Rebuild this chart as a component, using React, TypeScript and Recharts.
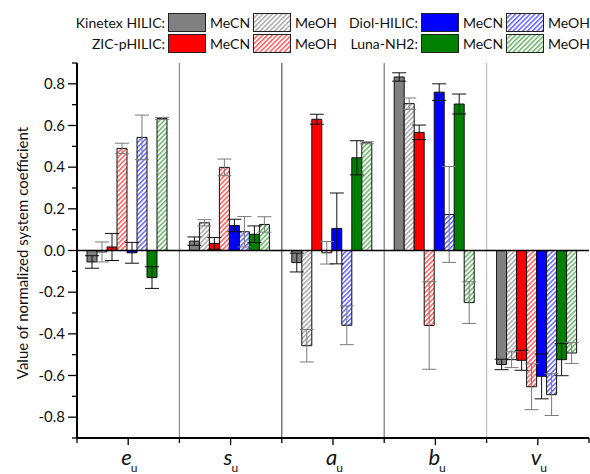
import { Bar, BarChart, ErrorBar, ReferenceLine, XAxis, YAxis } from 'recharts'

// categories (system coefficients)
const categories = ['e', 's', 'a', 'b', 'v']

// normalized coefficients + std errors
const kinMeCN = [-0.055, 0.045, -0.058, 0.833, -0.547]
const kinMeCNErr = [0.03, 0.02, 0.045, 0.02, 0.025]
const kinMeOH = [-0.007, 0.133, -0.457, 0.705, -0.524]
const kinMeOHErr = [0.048, 0.015, 0.078, 0.027, 0.038]
const zicMeCN = [0.017, 0.034, 0.63, 0.567, -0.527]
const zicMeCNErr = [0.065, 0.028, 0.024, 0.035, 0.048]
const zicMeOH = [0.49, 0.399, -0.011, -0.36, -0.654]
const zicMeOHErr = [0.025, 0.04, 0.054, 0.21, 0.11]
const diolMeCN = [-0.011, 0.12, 0.106, 0.76, -0.604]
const diolMeCNErr = [0.05, 0.03, 0.17, 0.04, 0.108]
const diolMeOH = [0.543, 0.09, -0.359, 0.173, -0.692]
const diolMeOHErr = [0.107, 0.073, 0.093, 0.23, 0.1]
const lunaMeCN = [-0.13, 0.078, 0.445, 0.703, -0.524]
const lunaMeCNErr = [0.052, 0.04, 0.082, 0.048, 0.077]
const lunaMeOH = [0.634, 0.125, 0.517, -0.25, -0.492]
const lunaMeOHErr = [0.005, 0.037, 0.005, 0.1, 0.05]

const yTicks = [-0.9, -0.8, -0.7, -0.6, -0.5, -0.4, -0.3, -0.2, -0.1, 0, 0.1, 0.2, 0.3, 0.4, 0.5, 0.6, 0.7, 0.8, 0.9]
const yLabel = 'Value of normalized system coefficient'

const data = categories.map((cat, i) => ({
  cat,
  kinMeCN: kinMeCN[i], kinMeCNErr: kinMeCNErr[i],
  kinMeOH: kinMeOH[i], kinMeOHErr: kinMeOHErr[i],
  zicMeCN: zicMeCN[i], zicMeCNErr: zicMeCNErr[i],
  zicMeOH: zicMeOH[i], zicMeOHErr: zicMeOHErr[i],
  diolMeCN: diolMeCN[i], diolMeCNErr: diolMeCNErr[i],
  diolMeOH: diolMeOH[i], diolMeOHErr: diolMeOHErr[i],
  lunaMeCN: lunaMeCN[i], lunaMeCNErr: lunaMeCNErr[i],
  lunaMeOH: lunaMeOH[i], lunaMeOHErr: lunaMeOHErr[i],
}))

const series = [
  { key: 'kinMeCN', color: '#808080', hatch: false },
  { key: 'kinMeOH', color: '#8a8a8a', hatch: true },
  { key: 'zicMeCN', color: '#ff0000', hatch: false },
  { key: 'zicMeOH', color: '#ff2020', hatch: true },
  { key: 'diolMeCN', color: '#0000ff', hatch: false },
  { key: 'diolMeOH', color: '#2a2aff', hatch: true },
  { key: 'lunaMeCN', color: '#008000', hatch: false },
  { key: 'lunaMeOH', color: '#2f9a2f', hatch: true },
]
const byKey = Object.fromEntries(series.map((s) => [s.key, s]))
const fillOf = (s: { key: string; color: string; hatch: boolean }) => (s.hatch ? `url(#hatch-${s.key})` : s.color)

const legendGroups = [
  { label: 'Kinetex HILIC:', keys: ['kinMeCN', 'kinMeOH'], right: 165, top: 13 },
  { label: 'ZIC-pHILIC:', keys: ['zicMeCN', 'zicMeOH'], right: 165, top: 34 },
  { label: 'Diol-HILIC:', keys: ['diolMeCN', 'diolMeOH'], right: 418, top: 13 },
  { label: 'Luna-NH2:', keys: ['lunaMeCN', 'lunaMeOH'], right: 418, top: 34 },
]

// category boundaries: [category, band side, separator colour]
const separators: [string, 'start' | 'end', string | null][] = [
  ['e', 'start', null],
  ['s', 'start', '#8c8c8c'],
  ['a', 'start', '#555'],
  ['b', 'start', '#777'],
  ['v', 'start', '#c4c4c4'],
  ['v', 'end', null],
]

const FONT = 'Lato, "Open Sans", sans-serif'

function YTick({ x, y, payload }: any) {
  const v = payload.value
  const major = Math.round(v * 10) % 2 === 0
  return (
    <g>
      <line x1={x} x2={x - (major ? 9 : 5)} y1={y} y2={y} stroke="#000" strokeWidth={1.3} />
      {major && (
        <text x={x - 12} y={y + 5} textAnchor="end" fontSize={15} fontFamily={FONT} fill="#111">
          {v.toFixed(1)}
        </text>
      )}
    </g>
  )
}

function XTick({ x, y, payload }: any) {
  return (
    <text x={x - 7} y={y + 20} fontFamily={FONT} fill="#111">
      <tspan fontSize={22} fontStyle="italic">{payload.value}</tspan>
      <tspan fontSize={12} dy={7} dx={-1}>u</tspan>
    </text>
  )
}

// axis title, centred a little below the middle of the plot like the original
function YLabel() {
  const cx = 22
  const cy = 253
  return (
    <text
      x={cx}
      y={cy}
      transform={`rotate(-90, ${cx}, ${cy})`}
      textAnchor="middle"
      dominantBaseline="central"
      fontSize={15}
      fontFamily={FONT}
      fill="#111"
    >
      {yLabel}
    </text>
  )
}

const sepShape = (color: string | null) => (props: any) => {
  const { x1, y1, y2 } = props
  const top = Math.min(y1, y2)
  const bottom = Math.max(y1, y2)
  return (
    <g>
      {color && <line x1={x1} x2={x1} y1={top} y2={bottom} stroke={color} strokeWidth={1.2} />}
      <line x1={x1} x2={x1} y1={bottom} y2={bottom + 5} stroke="#000" strokeWidth={1.3} />
    </g>
  )
}

function Swatch({ s }: any) {
  return (
    <svg width={38} height={19} style={{ display: 'block' }}>
      <rect x={0.5} y={0.5} width={37} height={18} fill={fillOf(s)} stroke="#222" strokeWidth={1} />
    </svg>
  )
}

export default function App() {
  return (
    <div style={{ position: 'absolute', left: 0, top: 0, width: 590, height: 474, background: '#fff', fontFamily: FONT }}>
      <svg width={0} height={0} style={{ position: 'absolute' }}>
        <defs>
          {series.filter((s) => s.hatch).map((s) => (
            <pattern key={s.key} id={`hatch-${s.key}`} width={3.4} height={3.4} patternUnits="userSpaceOnUse" patternTransform="rotate(45)">
              <rect width={3.4} height={3.4} fill="#fff" />
              <line x1={0.8} y1={0} x2={0.8} y2={3.4} stroke={s.color} strokeWidth={1.1} />
            </pattern>
          ))}
        </defs>
      </svg>

      {legendGroups.map((g) => (
        <div key={g.label} style={{ position: 'absolute', top: g.top, left: 0, height: 19, fontSize: 14, color: '#111', lineHeight: '19px' }}>
          <div style={{ position: 'absolute', left: g.right - 150, width: 150, textAlign: 'right' }}>{g.label}</div>
          <div style={{ position: 'absolute', left: g.right + 3 }}><Swatch s={byKey[g.keys[0]]} /></div>
          <div style={{ position: 'absolute', left: g.right + 45 }}>MeCN</div>
          <div style={{ position: 'absolute', left: g.right + 88 }}><Swatch s={byKey[g.keys[1]]} /></div>
          <div style={{ position: 'absolute', left: g.right + 130 }}>MeOH</div>
        </div>
      ))}

      <BarChart
        width={590}
        height={474}
        data={data}
        margin={{ top: 63, right: 1, bottom: 0, left: 0 }}
        barCategoryGap={10}
        barGap={0}
        style={{ position: 'absolute', left: 0, top: 0 }}
      >
        <XAxis
          dataKey="cat"
          height={36}
          tickSize={7}
          tickMargin={0}
          axisLine={{ stroke: '#000', strokeWidth: 2 }}
          tickLine={{ stroke: '#000', strokeWidth: 1.3 }}
          tick={<XTick />}
        />
        <YAxis
          width={77}
          domain={[-0.9, 0.9]}
          ticks={yTicks}
          interval={0}
          allowDataOverflow
          tickSize={0}
          tickMargin={0}
          tickLine={false}
          axisLine={{ stroke: '#000', strokeWidth: 2 }}
          tick={<YTick />}
          label={{ content: YLabel }}
        />
        {separators.map(([cat, pos, color]) => (
          <ReferenceLine key={cat + pos} x={cat} position={pos} stroke="none" shape={sepShape(color)} />
        ))}
        {series.map((s) => (
          <Bar key={s.key} dataKey={s.key} fill={fillOf(s)} stroke="#111" strokeWidth={1} isAnimationActive={false}>
            <ErrorBar
              dataKey={`${s.key}Err`}
              direction="y"
              width={7}
              stroke={s.hatch ? '#7a7a7a' : '#111'}
              strokeWidth={1}
              isAnimationActive={false}
            />
          </Bar>
        ))}
        <ReferenceLine y={0} stroke="#000" strokeWidth={1.5} />
      </BarChart>
    </div>
  )
}
